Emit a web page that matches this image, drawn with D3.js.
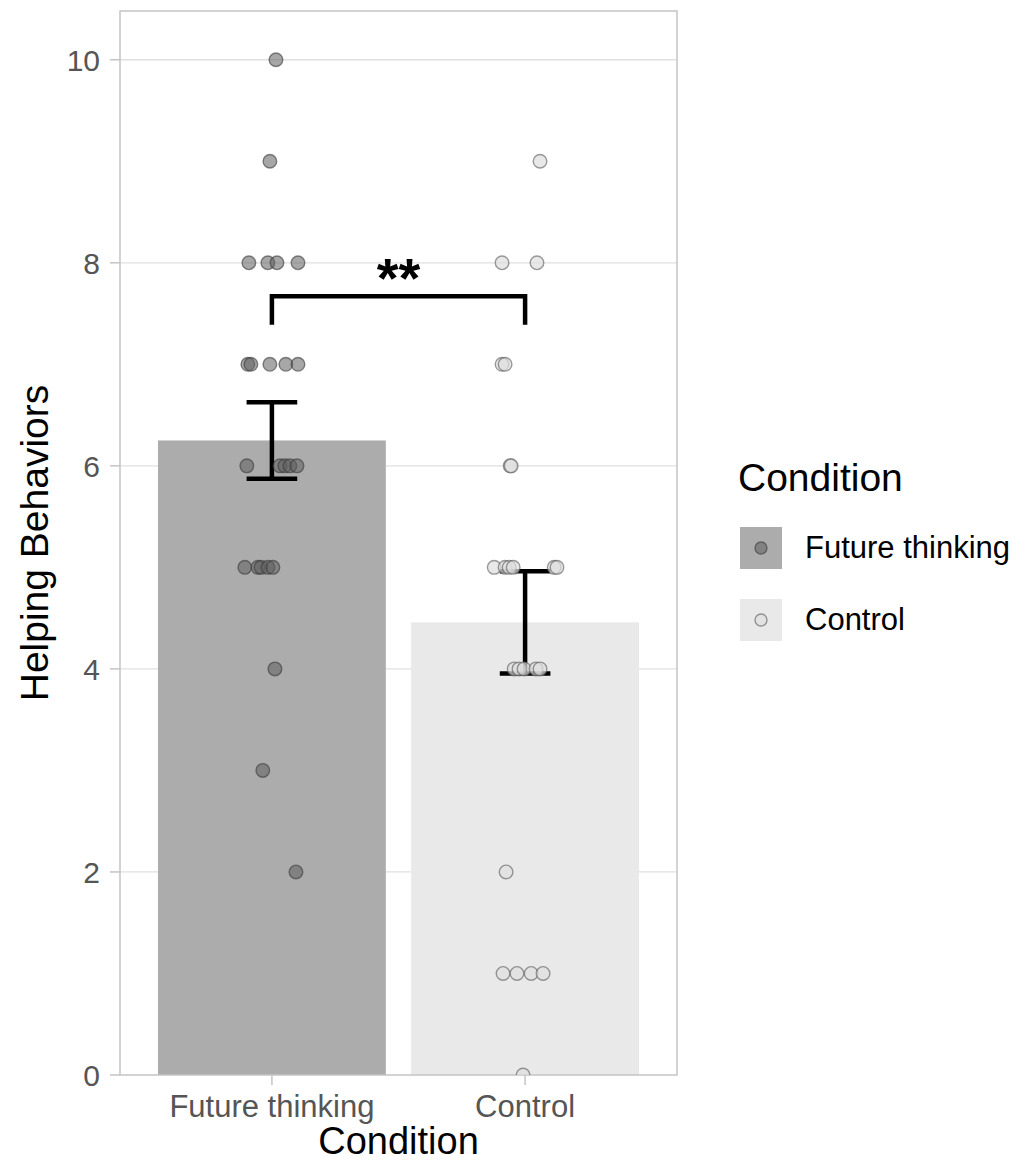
<!DOCTYPE html>
<html>
<head>
<meta charset="utf-8">
<script src="https://cdn.jsdelivr.net/npm/d3@7"></script>
<style>
  body { margin: 0; background: #fff; }
  svg { display: block; font-family: "Liberation Sans", Arial, Helvetica, sans-serif; }
</style>
</head>
<body>
<svg id="chart" width="1033" height="1164"></svg>
<script>
// ---- data ----
const categories = ["Future thinking", "Control"];
const yTicks = [0, 2, 4, 6, 8, 10];

// individual responses (value) and horizontal jitter (in category units)
const futureValues = [10, 9, 8, 8, 8, 8, 7, 7, 7, 7, 7, 6, 6, 6, 6, 6, 5, 5, 5, 5, 5, 4, 3, 2];
const futureJitter = [0.016, -0.008, -0.091, -0.016, 0.020, 0.103, -0.095, -0.083, -0.008, 0.055, 0.103,
                      -0.099, 0.032, 0.051, 0.071, 0.099, -0.107, -0.055, -0.043, -0.016, 0.004, 0.012, -0.036, 0.095];
const controlValues = [9, 8, 8, 7, 7, 6, 6, 5, 5, 5, 5, 5, 5, 4, 4, 4, 4, 4, 2, 1, 1, 1, 1, 0];
const controlJitter = [0.059, -0.091, 0.047, -0.091, -0.079, -0.059, -0.055, -0.122, -0.079, -0.063, -0.047, 0.115, 0.126,
                       -0.043, -0.024, -0.004, 0.043, 0.059, -0.075, -0.087, -0.032, 0.024, 0.071, -0.008];

const barFills = ["#acacac", "#e9e9e9"];
const pointFills = ["#5e5e5e", "#dedede"];
const pointStrokes = ["#3a3a3a", "#5a5a5a"];
const sigLabel = "**";

// ---- layout ----
const svg = d3.select("#chart");
const P = { left: 120, right: 677, top: 11, bottom: 1075 };

const x = d3.scaleLinear().domain([0.4, 2.6]).range([P.left, P.right]);
const y = d3.scaleLinear().domain([0, 10.48]).range([P.bottom, P.top]);
const xPos = c => x(categories.indexOf(c) + 1);

function stats(v) {
  const m = d3.mean(v);
  const se = d3.deviation(v) / Math.sqrt(v.length);
  return { mean: m, se: se };
}
const groups = [
  { cat: categories[0], values: futureValues, jitter: futureJitter },
  { cat: categories[1], values: controlValues, jitter: controlJitter }
].map((g, i) => Object.assign(g, stats(g.values), { i }));

// clip
svg.append("defs").append("clipPath").attr("id", "panelClip")
  .append("rect").attr("x", P.left).attr("y", P.top)
  .attr("width", P.right - P.left).attr("height", P.bottom - P.top);

// gridlines
svg.append("g").selectAll("line").data(yTicks.filter(t => t > 0)).join("line")
  .attr("x1", P.left).attr("x2", P.right)
  .attr("y1", d => y(d)).attr("y2", d => y(d))
  .attr("stroke", "#e0e0e0").attr("stroke-width", 1.3);

// bars
const bw = 0.9;
svg.append("g").selectAll("rect").data(groups).join("rect")
  .attr("x", d => x(d.i + 1 - bw / 2))
  .attr("width", d => x(d.i + 1 + bw / 2) - x(d.i + 1 - bw / 2))
  .attr("y", d => y(d.mean))
  .attr("height", d => y(0) - y(d.mean))
  .attr("fill", (d, i) => barFills[i]);

// panel border
svg.append("rect").attr("x", P.left).attr("y", P.top)
  .attr("width", P.right - P.left).attr("height", P.bottom - P.top)
  .attr("fill", "none").attr("stroke", "#c4c4c4").attr("stroke-width", 1.5);

// error bars
const capW = 0.1;
const eb = svg.append("g").attr("stroke", "#000").attr("stroke-width", 4.5).attr("fill", "none");
groups.forEach(g => {
  const cx = x(g.i + 1);
  eb.append("line").attr("x1", cx).attr("x2", cx).attr("y1", y(g.mean + g.se)).attr("y2", y(g.mean - g.se));
  [g.mean + g.se, g.mean - g.se].forEach(v => {
    eb.append("line").attr("x1", x(g.i + 1 - capW)).attr("x2", x(g.i + 1 + capW))
      .attr("y1", y(v)).attr("y2", y(v));
  });
});

// points
const pts = svg.append("g").attr("clip-path", "url(#panelClip)");
groups.forEach(g => {
  pts.selectAll(null).data(g.values.map((v, k) => ({ v, j: g.jitter[k] }))).join("circle")
    .attr("cx", d => x(g.i + 1 + d.j))
    .attr("cy", d => y(d.v))
    .attr("r", 6.8)
    .attr("fill", pointFills[g.i])
    .attr("fill-opacity", g.i === 0 ? 0.55 : 0.7)
    .attr("stroke", pointStrokes[g.i])
    .attr("stroke-opacity", 0.6)
    .attr("stroke-width", 1.4);
});

// significance bracket
const bracketY = 7.67, bracketDrop = 7.39;
svg.append("path")
  .attr("d", `M${x(1)},${y(bracketDrop)} L${x(1)},${y(bracketY)} L${x(2)},${y(bracketY)} L${x(2)},${y(bracketDrop)}`)
  .attr("fill", "none").attr("stroke", "#000").attr("stroke-width", 4.5);
svg.append("text").attr("x", x(1.5)).attr("y", y(bracketY) + 1)
  .attr("text-anchor", "middle").attr("font-size", 56).attr("font-weight", "bold")
  .attr("fill", "#000").text(sigLabel);

// y axis ticks + labels
const ya = svg.append("g");
ya.selectAll("line").data(yTicks).join("line")
  .attr("x1", P.left - 10).attr("x2", P.left)
  .attr("y1", d => y(d)).attr("y2", d => y(d))
  .attr("stroke", "#c4c4c4").attr("stroke-width", 1.5);
ya.selectAll("text").data(yTicks).join("text")
  .attr("x", P.left - 20).attr("y", d => y(d)).attr("dy", "0.36em")
  .attr("text-anchor", "end").attr("font-size", 30).attr("fill", "#555")
  .text(d => d);

// x axis ticks + labels
const xa = svg.append("g");
xa.selectAll("line").data(categories).join("line")
  .attr("x1", d => xPos(d)).attr("x2", d => xPos(d))
  .attr("y1", P.bottom).attr("y2", P.bottom + 10)
  .attr("stroke", "#c4c4c4").attr("stroke-width", 1.5);
xa.selectAll("text").data(categories).join("text")
  .attr("x", d => xPos(d)).attr("y", P.bottom + 42)
  .attr("text-anchor", "middle").attr("font-size", 31).attr("fill", "#555")
  .text(d => d);

// axis titles
svg.append("text").attr("x", (P.left + P.right) / 2).attr("y", 1154)
  .attr("text-anchor", "middle").attr("font-size", 38).attr("fill", "#000").text("Condition");
svg.append("text").attr("transform", `translate(48,${(P.top + P.bottom) / 2}) rotate(-90)`)
  .attr("text-anchor", "middle").attr("font-size", 39).attr("fill", "#000").text("Helping Behaviors");

// legend
const lg = svg.append("g");
lg.append("text").attr("x", 738).attr("y", 491).attr("font-size", 39).attr("fill", "#000").text("Condition");
categories.forEach((c, i) => {
  const ky = 527 + i * 72;
  lg.append("rect").attr("x", 740).attr("y", ky).attr("width", 42).attr("height", 42).attr("fill", barFills[i]);
  lg.append("circle").attr("cx", 761).attr("cy", ky + 21).attr("r", 6)
    .attr("fill", pointFills[i]).attr("fill-opacity", i === 0 ? 0.55 : 0.7)
    .attr("stroke", pointStrokes[i]).attr("stroke-opacity", 0.6).attr("stroke-width", 1.4);
  lg.append("text").attr("x", 805).attr("y", ky + 21).attr("dy", "0.33em")
    .attr("font-size", 31).attr("fill", "#000").text(c);
});
</script>
</body>
</html>
